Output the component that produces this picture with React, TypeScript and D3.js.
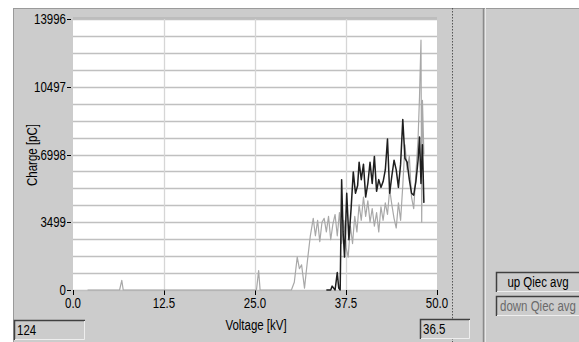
import React from "react";
import * as d3 from "d3";

// down series (gray)
const downKv = [2.0, 6.4, 6.7, 6.9, 25.2, 25.5, 25.7, 30.0, 30.4, 30.8, 31.1, 31.4, 31.8, 32.2, 32.6, 33.0, 33.3, 33.6, 33.9, 34.2, 34.5, 34.8, 35.1, 35.4, 35.7, 36.0, 36.3, 36.6, 36.9, 37.2, 37.5, 37.8, 38.1, 38.4, 38.7, 39.0, 39.3, 39.6, 39.9, 40.2, 40.5, 40.8, 41.1, 41.4, 41.7, 42.0, 42.3, 42.6, 42.9, 43.2, 43.5, 43.8, 44.1, 44.4, 44.7, 45.0, 45.3, 45.6, 45.9, 46.2, 46.5, 46.8, 47.1, 47.4, 47.6, 47.8, 47.9, 48.0, 48.2];
const downPc = [0, 0, 500, 0, 0, 1000, 0, 0, 400, 1700, 1100, 1300, 100, 1500, 2800, 3700, 2800, 3600, 2500, 3500, 3700, 3000, 3800, 2600, 3400, 3900, 2800, 4000, 2400, 3600, 2200, 1700, 3300, 2400, 3800, 3000, 4400, 3600, 4800, 3800, 4600, 3500, 4200, 3300, 4000, 3000, 4300, 3600, 4500, 3900, 5200, 4400, 3700, 3200, 4500, 3600, 5400, 7500, 6200, 6900, 4800, 4200, 6000, 7800, 10000, 12900, 3500, 9800, 7000];

// up series (black)
const upKv = [34.8, 35.4, 35.6, 36.0, 36.3, 36.5, 36.7, 36.9, 37.1, 37.3, 37.6, 37.9, 38.2, 38.5, 38.8, 39.1, 39.3, 39.6, 39.9, 40.2, 40.5, 40.8, 41.1, 41.4, 41.7, 42.0, 42.3, 42.6, 42.9, 43.2, 43.5, 43.8, 44.1, 44.4, 44.7, 45.0, 45.3, 45.6, 45.9, 46.2, 46.5, 46.8, 47.1, 47.4, 47.6, 47.8, 48.0, 48.2];
const upPc = [0, 0, 200, 0, 900, 100, 0, 5700, 3000, 1700, 5000, 2600, 4200, 6100, 5000, 5400, 6600, 5700, 6500, 4800, 5500, 6600, 5500, 6900, 5100, 5700, 5300, 5600, 6200, 7800, 5000, 5900, 6700, 6200, 5300, 6500, 8800, 6800, 6600, 5700, 5000, 4900, 5600, 6700, 7900, 5500, 7500, 4500];

const xTicks = [0, 12.5, 25, 37.5, 50];
const yTicks = [0, 3499, 6998, 10497, 13996];
const yMax = 13996;

const font = "'Liberation Sans', Arial, sans-serif";

// condensed label, like the old MS Sans Serif look
const Label = ({ x, y, children, anchor = "start", color = "#000", rotate = 0 }: any) => (
  <text
    transform={`translate(${x},${y}) rotate(${rotate}) scale(0.82,1)`}
    fontSize={14}
    textAnchor={anchor}
    fontFamily={font}
    fill={color}
  >
    {children}
  </text>
);

const Sunken = ({ x, y, w, h, text, color = "#000", anchor = "start", tx }: any) => (
  <g>
    <rect x={x} y={y} width={w} height={h} fill="#cccccc" />
    <path d={`M${x + 0.5},${y + h} V${y + 0.5} H${x + w}`} stroke="#404040" fill="none" strokeWidth={1.5} />
    <path d={`M${x + 1},${y + h - 0.5} H${x + w - 0.5} V${y + 1}`} stroke="#eeeeee" fill="none" />
    <Label x={tx ?? x + 3} y={y + h / 2 + 5} anchor={anchor} color={color}>
      {text}
    </Label>
  </g>
);

export default function App() {
  const W = 579;
  const H = 342;
  const x = d3.scaleLinear().domain([0, 50]).range([73, 437]);
  const y = d3.scaleLinear().domain([0, yMax]).range([290, 19]);

  const downLine = d3.line<number>().x((d) => x(d)).y((_, i) => y(downPc[i]))(downKv) || "";
  const upLine = d3.line<number>().x((d) => x(d)).y((_, i) => y(upPc[i]))(upKv) || "";

  const gridY = d3.range(0, 17).map((i) => (yMax / 16) * i);

  return (
    <svg width={W} height={H} style={{ position: "absolute", left: 0, top: 0, display: "block" }}>
      <rect width={W} height={H} fill="#ffffff" />
      {/* panel */}
      <rect x={13} y={8} width={W - 13} height={H - 8} fill="#cccccc" />
      <line x1={13} x2={W} y1={8.5} y2={8.5} stroke="#9a9a9a" />
      <line x1={13.5} x2={13.5} y1={8} y2={H} stroke="#9a9a9a" />
      {/* plot top band */}
      <rect x={73} y={17} width={364} height={2} fill="#bdbdbd" />
      {/* plot area */}
      <rect x={73} y={19} width={364} height={271} fill="#ffffff" />
      {gridY.map((v, i) => (
        <line key={i} x1={73} x2={437} y1={Math.round(y(v)) + 0.5} y2={Math.round(y(v)) + 0.5} stroke="#c0c0c0" strokeWidth={1.4} />
      ))}
      {xTicks.slice(1, 4).map((v) => (
        <line key={v} x1={Math.round(x(v)) + 0.5} x2={Math.round(x(v)) + 0.5} y1={19} y2={290} stroke="#d6d6d6" strokeWidth={1.3} />
      ))}
      {/* ticks */}
      {yTicks.map((v) => (
        <g key={v}>
          <line x1={67} x2={71} y1={Math.round(y(v)) + 0.5} y2={Math.round(y(v)) + 0.5} stroke="#000" />
          <Label x={66} y={y(v) + 5} anchor="end">
            {v}
          </Label>
        </g>
      ))}
      {xTicks.map((v) => (
        <g key={v}>
          <line x1={Math.round(x(v)) + 0.5} x2={Math.round(x(v)) + 0.5} y1={290} y2={295} stroke="#000" />
          <Label x={x(v)} y={308} anchor="middle">
            {v.toFixed(1)}
          </Label>
        </g>
      ))}
      <Label x={256} y={330} anchor="middle">
        Voltage [kV]
      </Label>
      <Label x={37} y={155} anchor="middle" rotate={-90}>
        Charge [pC]
      </Label>
      {/* series */}
      <path d={downLine} fill="none" stroke="#a8a8a8" strokeWidth={1.2} strokeLinejoin="round" />
      <path d={upLine} fill="none" stroke="#1e1e1e" strokeWidth={1.5} strokeLinejoin="round" />
      {/* separators */}
      <line x1={452.5} x2={452.5} y1={8} y2={H} stroke="#555" strokeDasharray="1.5,1.5" />
      <line x1={483.5} x2={483.5} y1={8} y2={H} stroke="#8a8a8a" strokeWidth={1.5} />
      <line x1={485.5} x2={485.5} y1={8} y2={H} stroke="#e8e8e8" />
      {/* boxes */}
      <Sunken x={14} y={320} w={71} h={20} text="124" />
      <Sunken x={420} y={319} w={50} h={20} text="36.5" />
      <Sunken x={496} y={272} w={90} h={20} text="up   Qiec avg" anchor="middle" tx={538} />
      <Sunken x={496} y={296} w={90} h={20} text="down Qiec avg" anchor="middle" tx={538} color="#6a6a6a" />
    </svg>
  );
}
